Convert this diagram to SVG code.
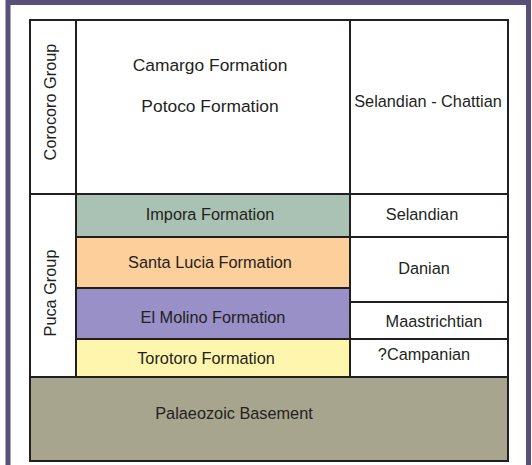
<svg xmlns="http://www.w3.org/2000/svg" width="532" height="465" viewBox="0 0 532 465">
<style>
.cell{stroke:#231f20;stroke-width:2;}
.w{fill:#ffffff;}
.t{font-family:"Liberation Sans",Arial,sans-serif;font-size:16.3px;fill:#231f20;text-anchor:middle;}
.big{font-size:17.4px;}
</style>
<rect x="0" y="0" width="532" height="465" fill="#ffffff"/>
<rect x="8" y="2.5" width="520.5" height="500" fill="#ffffff" stroke="#58507a" stroke-width="5"/>
<g id="corocoro-group"><rect class="cell w" x="30" y="20" width="46" height="174"/><text class="t" transform="translate(56,102) rotate(-90)">Corocoro Group</text></g>
<g id="corocoro-formations"><rect class="cell w" x="76" y="20" width="274" height="174"/><text class="t big" x="210" y="71">Camargo Formation</text><text class="t big" x="210" y="112">Potoco Formation</text></g>
<g id="age-selandian-chattian"><rect class="cell w" x="350" y="20" width="158" height="174"/><text class="t" x="428" y="107">Selandian - Chattian</text></g>
<g id="puca-group"><rect class="cell w" x="30" y="194" width="46" height="183"/><text class="t" transform="translate(56,293) rotate(-90)">Puca Group</text></g>
<g id="impora"><rect class="cell" fill="#a9c2b3" x="76" y="194" width="274" height="43"/><text class="t" x="210" y="220">Impora Formation</text></g>
<g id="santa-lucia"><rect class="cell" fill="#fdcf9b" x="76" y="237" width="274" height="51"/><text class="t" x="210" y="268">Santa Lucia Formation</text></g>
<g id="el-molino"><rect class="cell" fill="#9990c8" x="76" y="288" width="274" height="51"/><text class="t" x="213" y="323">El Molino Formation</text></g>
<g id="torotoro"><rect class="cell" fill="#fff6ae" x="76" y="339" width="274" height="38"/><text class="t" x="206" y="364">Torotoro Formation</text></g>
<g id="age-selandian"><rect class="cell w" x="350" y="194" width="158" height="43"/><text class="t" x="422" y="220">Selandian</text></g>
<g id="age-danian"><rect class="cell w" x="350" y="237" width="158" height="65"/><text class="t" x="424" y="274">Danian</text></g>
<g id="age-maastrichtian"><rect class="cell w" x="350" y="302" width="158" height="37"/><text class="t" x="434" y="327">Maastrichtian</text></g>
<g id="age-campanian"><rect class="cell w" x="350" y="339" width="158" height="38"/><text class="t" x="424" y="360">?Campanian</text></g>
<g id="basement"><rect class="cell" fill="#a8a58f" x="30" y="377" width="478" height="84"/><text class="t" x="234" y="419">Palaeozoic Basement</text></g>
</svg>
